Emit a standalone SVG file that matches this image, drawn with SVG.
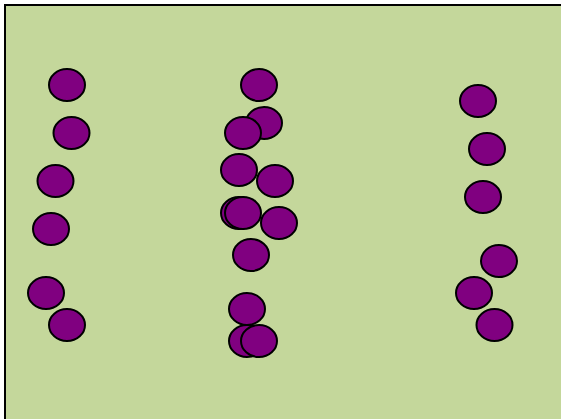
<svg xmlns="http://www.w3.org/2000/svg" width="561" height="419" viewBox="0 0 561 419">
<style>
.b{fill:#800080;stroke:#000;stroke-width:2}
</style>
<rect width="561" height="419" fill="#fff"/>
<rect id="bg" x="5" y="5" width="570" height="430" fill="#c4d79b" stroke="#000" stroke-width="2"/>
<g id="left">
<ellipse class="b" cx="67" cy="85" rx="18" ry="16"/>
<ellipse class="b" cx="71.5" cy="133" rx="18" ry="16"/>
<ellipse class="b" cx="55.5" cy="181" rx="18" ry="16"/>
<ellipse class="b" cx="51" cy="229" rx="18" ry="16"/>
<ellipse class="b" cx="46" cy="293" rx="18" ry="16"/>
<ellipse class="b" cx="67" cy="325" rx="18" ry="16"/>
</g>
<g id="middle">
<ellipse class="b" cx="259" cy="85" rx="18" ry="16"/>
<ellipse class="b" cx="264" cy="123" rx="18" ry="16"/>
<ellipse class="b" cx="243" cy="133" rx="18" ry="16"/>
<ellipse class="b" cx="239" cy="170" rx="18" ry="16"/>
<ellipse class="b" cx="275" cy="181" rx="18" ry="16"/>
<ellipse class="b" cx="239" cy="213" rx="18" ry="16"/>
<ellipse class="b" cx="243" cy="213" rx="18" ry="16"/>
<ellipse class="b" cx="279" cy="223" rx="18" ry="16"/>
<ellipse class="b" cx="251" cy="255" rx="18" ry="16"/>
<ellipse class="b" cx="247" cy="309" rx="18" ry="16"/>
<ellipse class="b" cx="247" cy="341" rx="18" ry="16"/>
<ellipse class="b" cx="259" cy="341" rx="18" ry="16"/>
</g>
<g id="right">
<ellipse class="b" cx="478" cy="101" rx="18" ry="16"/>
<ellipse class="b" cx="487" cy="149" rx="18" ry="16"/>
<ellipse class="b" cx="483" cy="197" rx="18" ry="16"/>
<ellipse class="b" cx="499" cy="261" rx="18" ry="16"/>
<ellipse class="b" cx="474" cy="293" rx="18" ry="16"/>
<ellipse class="b" cx="494.5" cy="325" rx="18" ry="16"/>
</g>
</svg>
